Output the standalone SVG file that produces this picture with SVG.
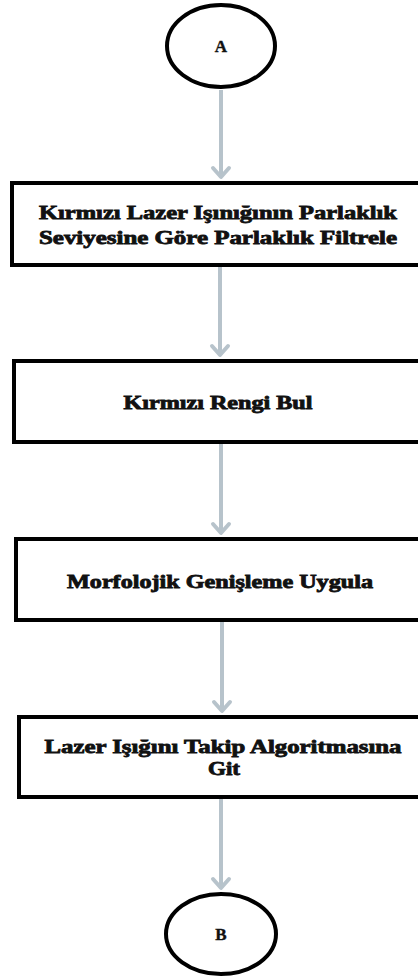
<svg xmlns="http://www.w3.org/2000/svg" width="418" height="977" viewBox="0 0 418 977">
  <style>
    .box { fill: #ffffff; stroke: #000000; stroke-width: 4; }
    .term { fill: #ffffff; stroke: #000000; stroke-width: 4; }
    .label { font-family: "Liberation Serif", "DejaVu Serif", serif; font-weight: 900; font-size: 18px; fill: #111111; text-anchor: middle; stroke: #111111; stroke-width: 0.8; }
    .term-label { font-family: "Liberation Serif", "DejaVu Serif", serif; font-weight: bold; font-size: 17px; fill: #111111; text-anchor: middle; stroke: #111111; stroke-width: 0.4; }
    .flow { stroke: #b7c3cb; stroke-width: 4; fill: none; }
    .head { stroke: #b7c3cb; stroke-width: 4; fill: none; stroke-linecap: round; stroke-linejoin: round; }
  </style>
  <rect width="418" height="977" fill="#ffffff"/>

  <!-- connectors -->
  <g id="connectors">
    <line class="flow" x1="221" y1="90" x2="221" y2="177"/>
    <polyline class="head" points="213,168 221,177 229,168"/>
    <line class="flow" x1="220" y1="267" x2="220" y2="355"/>
    <polyline class="head" points="212,346 220,355 228,346"/>
    <line class="flow" x1="221" y1="444" x2="221" y2="533"/>
    <polyline class="head" points="213,524 221,533 229,524"/>
    <line class="flow" x1="222" y1="622" x2="222" y2="711"/>
    <polyline class="head" points="214,702 222,711 230,702"/>
    <line class="flow" x1="221" y1="799" x2="221" y2="888"/>
    <polyline class="head" points="213,879 221,888 229,879"/>
  </g>

  <!-- start terminal -->
  <g id="node-a">
    <ellipse class="term" cx="221" cy="46" rx="54" ry="41"/>
    <text class="term-label" x="221" y="52">A</text>
  </g>

  <g id="node-filter">
    <rect class="box" x="12" y="183" width="420" height="82"/>
    <text class="label" x="218" y="219" textLength="358" lengthAdjust="spacingAndGlyphs">Kırmızı Lazer Işınığının Parlaklık</text>
    <text class="label" x="218" y="244" textLength="358" lengthAdjust="spacingAndGlyphs">Seviyesine Göre Parlaklık Filtrele</text>
  </g>

  <g id="node-red">
    <rect class="box" x="14" y="361" width="420" height="81"/>
    <text class="label" x="218" y="409" textLength="189" lengthAdjust="spacingAndGlyphs">Kırmızı Rengi Bul</text>
  </g>

  <g id="node-dilate">
    <rect class="box" x="16" y="539" width="420" height="81"/>
    <text class="label" x="220" y="588" textLength="306" lengthAdjust="spacingAndGlyphs">Morfolojik Genişleme Uygula</text>
  </g>

  <g id="node-track">
    <rect class="box" x="19" y="717" width="420" height="80"/>
    <text class="label" x="223" y="753" textLength="357" lengthAdjust="spacingAndGlyphs">Lazer Işığını Takip Algoritmasına</text>
    <text class="label" x="224" y="775" textLength="32" lengthAdjust="spacingAndGlyphs">Git</text>
  </g>

  <!-- end terminal -->
  <g id="node-b">
    <ellipse class="term" cx="221" cy="934" rx="55" ry="40"/>
    <text class="term-label" x="221" y="940">B</text>
  </g>
</svg>
